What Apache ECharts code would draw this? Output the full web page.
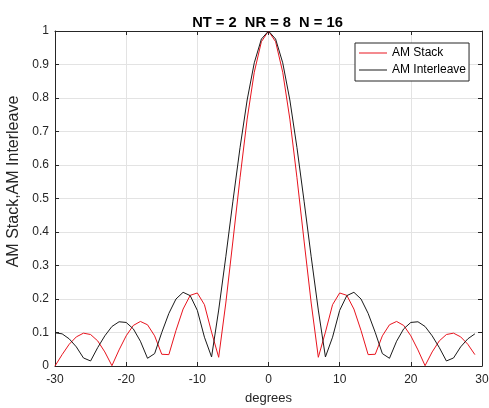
<!DOCTYPE html>
<html>
<head>
<meta charset="utf-8">
<script src="https://cdn.jsdelivr.net/npm/echarts@6/dist/echarts.min.js"></script>
<style>html,body{margin:0;padding:0;background:#fff}#c{width:489px;height:408px}</style>
</head>
<body>
<div id="c"></div>
<script>
var degrees = [-30,-29,-28,-27,-26,-25,-24,-23,-22,-21,-20,-19,-18,-17,-16,-15,-14,-13,-12,-11,-10,-9,-8,-7,-6,-5,-4,-3,-2,-1,0,1,2,3,4,5,6,7,8,9,10,11,12,13,14,15,16,17,18,19,20,21,22,23,24,25,26,27,28,29];
var amStack = [0.000,0.034,0.065,0.087,0.098,0.094,0.075,0.042,0.001,0.048,0.090,0.121,0.133,0.123,0.090,0.035,0.034,0.106,0.170,0.211,0.218,0.183,0.101,0.026,0.188,0.373,0.562,0.737,0.877,0.968,1.000,0.968,0.877,0.737,0.562,0.373,0.188,0.026,0.101,0.183,0.218,0.211,0.170,0.106,0.034,0.035,0.090,0.123,0.133,0.121,0.090,0.048,0.001,0.042,0.075,0.094,0.098,0.087,0.065,0.034];
var amInterleave = [0.099,0.096,0.081,0.057,0.024,0.015,0.055,0.090,0.118,0.132,0.130,0.111,0.074,0.023,0.037,0.100,0.157,0.200,0.220,0.210,0.166,0.086,0.027,0.167,0.326,0.492,0.652,0.794,0.905,0.976,1.000,0.976,0.905,0.794,0.652,0.492,0.326,0.167,0.027,0.086,0.166,0.210,0.220,0.200,0.157,0.100,0.037,0.023,0.074,0.111,0.130,0.132,0.118,0.090,0.055,0.015,0.024,0.057,0.081,0.096];
var seriesNames = ['AM Stack', 'AM Interleave'];
var titleText = 'NT = 2  NR = 8  N = 16';
var xName = 'degrees';
var yName = 'AM Stack,AM Interleave';

function pairs(xs, ys) { return xs.map(function (x, i) { return [x, ys[i]]; }); }

var FONT = 'Liberation Sans, Arial, sans-serif';
var AX = '#262626';
var chart = echarts.init(document.getElementById('c'), null, {renderer: 'canvas'});
chart.setOption({
  animation: false,
  backgroundColor: '#fff',
  title: {
    text: titleText, left: 262.5, textAlign: 'center', top: 10,
    textStyle: {fontFamily: FONT, fontSize: 14.7, fontWeight: 'bold', color: '#000'}
  },
  grid: {left: 55, right: 7, top: 31, bottom: 42, containLabel: false, outerBoundsMode: 'none'},
  legend: {
    orient: 'vertical', left: 355, top: 43,
    backgroundColor: '#fff', borderColor: '#262626', borderWidth: 1,
    padding: [4, 3, 5, 4], itemGap: 5, itemWidth: 28, itemHeight: 1,
    textStyle: {fontFamily: FONT, fontSize: 12, color: '#000'},
    data: [{name: seriesNames[0], icon: 'rect'}, {name: seriesNames[1], icon: 'rect'}]
  },
  xAxis: [{
    type: 'value', min: -30, max: 30, interval: 10,
    name: xName, nameLocation: 'middle', nameGap: 26,
    nameTextStyle: {fontFamily: FONT, fontSize: 13, color: AX},
    axisLine: {show: true, onZero: false, lineStyle: {color: AX, width: 1}},
    axisTick: {show: true, inside: true, length: 4, lineStyle: {color: AX}},
    axisLabel: {fontFamily: FONT, fontSize: 12, color: AX, margin: 8},
    splitLine: {show: true, lineStyle: {color: '#e3e3e3', width: 1}}
  }, {
    type: 'value', min: -30, max: 30, interval: 10, position: 'top',
    axisLine: {show: true, onZero: false, lineStyle: {color: AX, width: 1}},
    axisTick: {show: true, inside: true, length: 4, lineStyle: {color: AX}},
    axisLabel: {show: false}, splitLine: {show: false}
  }],
  yAxis: [{
    type: 'value', min: 0, max: 1, interval: 0.1,
    name: yName, nameLocation: 'middle', nameGap: 29, nameRotate: 90,
    nameTextStyle: {fontFamily: FONT, fontSize: 16, color: AX, padding: [0, 0, 0, 34]},
    axisLine: {show: true, onZero: false, lineStyle: {color: AX, width: 1}},
    axisTick: {show: true, inside: true, length: 4, lineStyle: {color: AX}},
    axisLabel: {fontFamily: FONT, fontSize: 12, color: AX, margin: 6},
    splitLine: {show: true, lineStyle: {color: '#e3e3e3', width: 1}}
  }, {
    type: 'value', min: 0, max: 1, interval: 0.1, position: 'right',
    axisLine: {show: true, onZero: false, lineStyle: {color: AX, width: 1}},
    axisTick: {show: true, inside: true, length: 4, lineStyle: {color: AX}},
    axisLabel: {show: false}, splitLine: {show: false}
  }],
  series: [{
    name: seriesNames[0], type: 'line', data: pairs(degrees, amStack),
    showSymbol: false, symbol: 'none', color: '#e8141e',
    lineStyle: {color: '#e8141e', width: 1}
  }, {
    name: seriesNames[1], type: 'line', data: pairs(degrees, amInterleave),
    showSymbol: false, symbol: 'none', color: '#1a1a1a',
    lineStyle: {color: '#1a1a1a', width: 1}
  }]
});
</script>
</body>
</html>
